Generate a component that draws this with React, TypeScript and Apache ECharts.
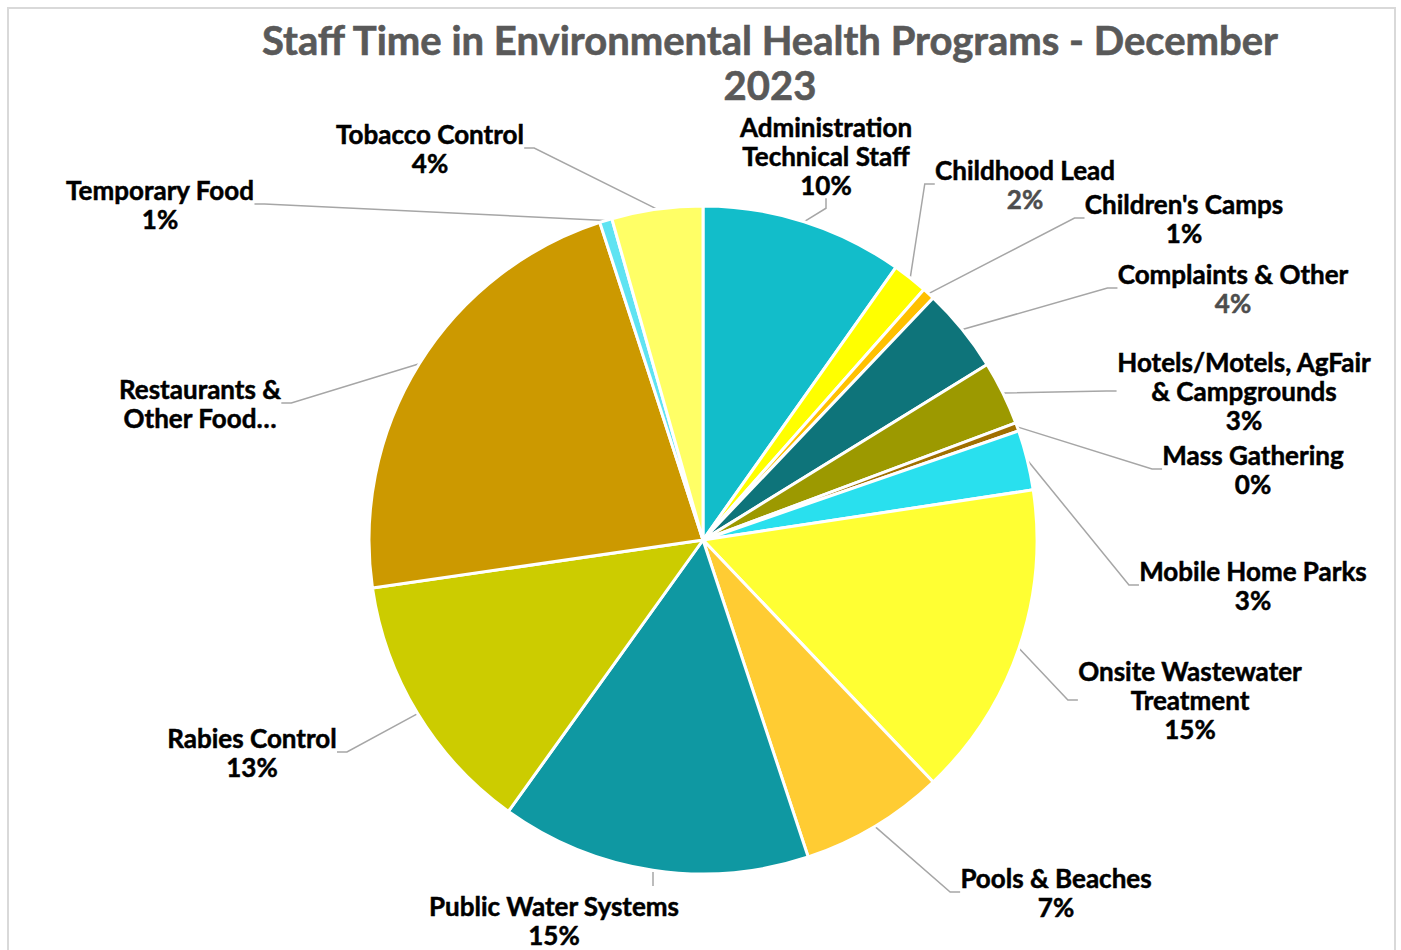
import React, { useEffect, useRef } from "react";
import * as echarts from "echarts";

const TITLE = "Staff Time in Environmental Health Programs - December\n2023";

const categories = [
  "Administration\nTechnical Staff",
  "Childhood Lead",
  "Children's Camps",
  "Complaints & Other",
  "Hotels/Motels, AgFair\n& Campgrounds",
  "Mass Gathering",
  "Mobile Home Parks",
  "Onsite Wastewater\nTreatment",
  "Pools & Beaches",
  "Public Water Systems",
  "Rabies Control",
  "Restaurants &\nOther Food…",
  "Temporary Food",
  "Tobacco Control",
];

const values = [9.8, 1.7, 0.6, 4.1, 3.1, 0.4, 2.9, 15.3, 7.0, 15.0, 12.8, 22.3, 0.6, 4.4];

const colors = [
  "#12BDCA", "#FFFF00", "#FFC000", "#0E747A", "#9C9900", "#A07000", "#29E0EE",
  "#FFFF33", "#FFCC33", "#0F98A2", "#CCCC00", "#CC9900", "#5FE3F2", "#FFFF66",
];

// label layout (text block centre, page coords) – styling only
const labelCenters: [number, number][] = [
  [826, 156], [1025, 184], [1184, 218], [1233, 288], [1244, 391], [1253, 469], [1253, 585],
  [1190, 700], [1056, 892], [554, 920], [252, 752], [200, 403], [160, 204], [430, 148],
];
const grayPct = [false, true, false, true, false, false, false, false, false, false, false, false, false, false];
const showPct = [true, true, true, true, true, true, true, true, true, true, true, false, true, true];

const FONT = "Lato, 'Open Sans', sans-serif";

export default function App() {
  const ref = useRef<HTMLDivElement>(null);
  useEffect(() => {
    document.body.style.margin = "0";
    const chart = echarts.init(ref.current!, undefined, { renderer: "svg" });
    const data = categories.map((name, i) => ({
      name,
      value: values[i],
      itemStyle: { color: colors[i] },
    }));
    const labStyle = (color: string) => ({
      fontFamily: FONT,
      fontWeight: "bold",
      fontSize: 26,
      color,
      lineHeight: 29,
      align: "center",
      textBorderColor: color,
      textBorderWidth: 0.5,
    });
    chart.setOption({
      animation: false,
      backgroundColor: "#FFFFFF",
      graphic: [
        {
          type: "rect",
          shape: { x: 8, y: 8, width: 1387, height: 980 },
          style: { fill: "none", stroke: "#D9D9D9", lineWidth: 2 },
          silent: true,
        },
        {
          type: "text",
          x: 770,
          y: 17,
          style: {
            text: TITLE,
            font: `bold 40px ${FONT}`,
            fill: "#595959",
            stroke: "#595959",
            lineWidth: 0.6,
            align: "center",
            verticalAlign: "top",
            lineHeight: 45,
          },
        },
      ],
      series: [
        {
          type: "pie",
          center: [703, 540],
          radius: 334,
          startAngle: 90,
          clockwise: true,
          avoidLabelOverlap: false,
          data,
          itemStyle: { borderColor: "#FFFFFF", borderWidth: 3 },
          label: {
            show: true,
            formatter: (p: any) => {
              const i = p.dataIndex;
              const lines = String(p.name).split("\n").map((l) => `{n|${l}}`);
              if (showPct[i]) {
                const pct = Math.round(p.percent) + "%";
                lines.push(grayPct[i] ? `{g|${pct}}` : `{n|${pct}}`);
              }
              return lines.join("\n");
            },
            rich: {
              n: labStyle("#000000"),
              g: labStyle("#4D4D4D"),
            },
          },
          labelLine: {
            show: true,
            length: 10,
            length2: 10,
            lineStyle: { color: "#A6A6A6", width: 1.5 },
          },
          labelLayout: (params: any) => {
            const i = params.dataIndex;
            const c = labelCenters[i];
            const out: any = { x: c[0], y: c[1], align: "center", verticalAlign: "middle" };
            if (i === 9) {
              out.labelLinePoints = [[653, 872], [653, 879], [653, 886]];
            }
            return out;
          },
        },
      ],
    });
    return () => chart.dispose();
  }, []);
  return <div ref={ref} style={{ width: 1401, height: 950 }} />;
}
